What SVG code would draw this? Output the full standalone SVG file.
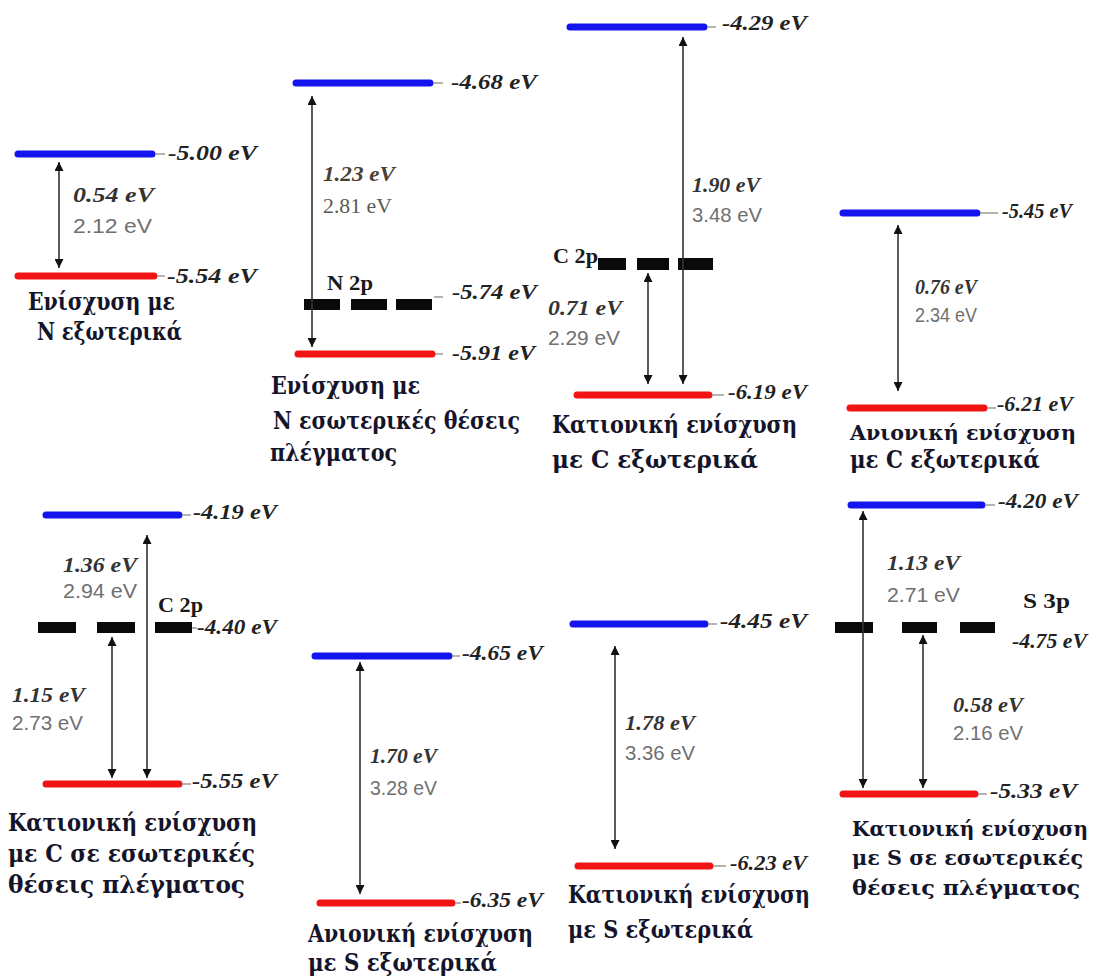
<svg xmlns="http://www.w3.org/2000/svg" width="1098" height="978" viewBox="0 0 1098 978">
  <defs>
    <marker id="head" viewBox="0 0 10 10" refX="10" refY="5" markerWidth="10" markerHeight="9" markerUnits="userSpaceOnUse" orient="auto-start-reverse">
      <path d="M0,0 L10,5 L0,10 z" fill="#111"/>
    </marker>
    <style>
      .cb { stroke: #1414ee; stroke-width: 7; stroke-linecap: round; }
      .vb { stroke: #f01414; stroke-width: 7; stroke-linecap: round; }
      .tick { stroke: #9a9a9a; stroke-width: 1.5; }
      .orb { fill: #0a0a0a; }
      .arr { stroke: #333; stroke-width: 1.6; fill: none; marker-start: url(#head); marker-end: url(#head); }
      .val { font-family: "Liberation Serif", "DejaVu Serif", serif; font-weight: bold; font-style: italic; font-size: 22px; fill: #222; }
      .gap { font-family: "Liberation Serif", "DejaVu Serif", serif; font-weight: bold; font-style: italic; font-size: 21px; fill: #333; }
      .gray { font-family: "Liberation Sans", sans-serif; font-size: 20px; fill: #707070; }
      .grays { font-family: "Liberation Serif", "DejaVu Serif", serif; font-size: 20px; fill: #5a5a50; }
      .orbl { font-family: "Liberation Serif", "DejaVu Serif", serif; font-weight: bold; font-size: 20px; fill: #1a1a1a; }
      .ttl { font-family: "DejaVu Serif", "Liberation Serif", serif; font-weight: bold; font-size: 24px; fill: #14142a; }
      .ttl.edge { font-size: 21px; }
    </style>
  </defs>
  <rect width="1098" height="978" fill="#ffffff"/>

  <!-- Panel 1: N outer doping -->
  <g id="panel-n-outer">
    <line class="cb" x1="18" y1="154" x2="152" y2="154"/>
    <line class="tick" x1="155" y1="154" x2="165" y2="154"/>
    <text class="val" x="168" y="160" textLength="89" lengthAdjust="spacingAndGlyphs">-5.00 eV</text>
    <line class="vb" x1="18" y1="276" x2="154" y2="276"/>
    <line class="tick" x1="157" y1="276" x2="165" y2="276"/>
    <text class="val" x="167" y="283" textLength="90" lengthAdjust="spacingAndGlyphs">-5.54 eV</text>
    <text class="gap" x="73" y="202" textLength="81" lengthAdjust="spacingAndGlyphs">0.54 eV</text>
    <text class="gray" x="73" y="233" textLength="79" lengthAdjust="spacingAndGlyphs">2.12 eV</text>
    <text class="ttl" x="28" y="310" textLength="147" lengthAdjust="spacingAndGlyphs">Ενίσχυση με</text>
    <text class="ttl" x="37" y="340" textLength="145" lengthAdjust="spacingAndGlyphs">N εξωτερικά</text>
  </g>

  <!-- Panel 2: N interstitial doping -->
  <g id="panel-n-inner">
    <line class="cb" x1="296" y1="83" x2="430" y2="83"/>
    <line class="tick" x1="433" y1="83" x2="443" y2="83"/>
    <text class="val" x="451" y="89" textLength="86" lengthAdjust="spacingAndGlyphs">-4.68 eV</text>
    <text class="orbl" x="327" y="290" textLength="46" lengthAdjust="spacingAndGlyphs">N 2p</text>
    <rect class="orb" x="304" y="299" width="36" height="11"/>
    <rect class="orb" x="351" y="299" width="36" height="11"/>
    <rect class="orb" x="396" y="299" width="36" height="11"/>
    <line class="tick" x1="434" y1="297" x2="443" y2="297"/>
    <text class="val" x="452" y="299" textLength="85" lengthAdjust="spacingAndGlyphs">-5.74 eV</text>
    <line class="vb" x1="298" y1="354" x2="432" y2="354"/>
    <line class="tick" x1="435" y1="354" x2="443" y2="354"/>
    <text class="val" x="452" y="360" textLength="83" lengthAdjust="spacingAndGlyphs">-5.91 eV</text>
    <text class="gap" x="323" y="181" textLength="72" lengthAdjust="spacingAndGlyphs" style="fill:#4a4032">1.23 eV</text>
    <text class="grays" x="323" y="213" textLength="69" lengthAdjust="spacingAndGlyphs">2.81 eV</text>
    <text class="ttl" x="271" y="394" textLength="149" lengthAdjust="spacingAndGlyphs">Ενίσχυση με</text>
    <text class="ttl" x="273" y="429" textLength="247" lengthAdjust="spacingAndGlyphs">N εσωτερικές θέσεις</text>
    <text class="ttl" x="270" y="461" textLength="127" lengthAdjust="spacingAndGlyphs">πλέγματος</text>
  </g>

  <!-- Panel 3: cationic C outer doping -->
  <g id="panel-c-cation-outer">
    <line class="cb" x1="570" y1="27" x2="704" y2="27"/>
    <line class="tick" x1="707" y1="27" x2="716" y2="27"/>
    <text class="val" x="722" y="30" textLength="85" lengthAdjust="spacingAndGlyphs">-4.29 eV</text>
    <text class="orbl" x="553" y="263" textLength="45" lengthAdjust="spacingAndGlyphs">C 2p</text>
    <rect class="orb" x="598" y="258" width="28" height="12"/>
    <rect class="orb" x="637" y="258" width="32" height="12"/>
    <rect class="orb" x="678" y="258" width="35" height="12"/>
    <line class="vb" x1="577" y1="395" x2="709" y2="395"/>
    <line class="tick" x1="712" y1="395" x2="724" y2="395"/>
    <text class="val" x="728" y="399" textLength="79" lengthAdjust="spacingAndGlyphs">-6.19 eV</text>
    <text class="gap" x="692" y="192" textLength="68" lengthAdjust="spacingAndGlyphs">1.90 eV</text>
    <text class="gray" x="692" y="222" textLength="70" lengthAdjust="spacingAndGlyphs">3.48 eV</text>
    <text class="gap" x="548" y="315" textLength="74" lengthAdjust="spacingAndGlyphs">0.71 eV</text>
    <text class="gray" x="548" y="345" textLength="72" lengthAdjust="spacingAndGlyphs">2.29 eV</text>
    <text class="ttl" x="552" y="433" textLength="245" lengthAdjust="spacingAndGlyphs">Κατιονική ενίσχυση</text>
    <text class="ttl" x="552" y="468" textLength="206" lengthAdjust="spacingAndGlyphs">με C εξωτερικά</text>
  </g>

  <!-- Panel 4: anionic C outer doping -->
  <g id="panel-c-anion-outer">
    <line class="cb" x1="843" y1="213" x2="977" y2="213"/>
    <line class="tick" x1="980" y1="213" x2="998" y2="213"/>
    <text class="val" x="1002" y="218" textLength="70" lengthAdjust="spacingAndGlyphs">-5.45 eV</text>
    <line class="vb" x1="850" y1="408" x2="984" y2="408"/>
    <line class="tick" x1="987" y1="408" x2="996" y2="408"/>
    <text class="val" x="997" y="411" textLength="76" lengthAdjust="spacingAndGlyphs">-6.21 eV</text>
    <text class="gap" x="915" y="294" textLength="62" lengthAdjust="spacingAndGlyphs">0.76 eV</text>
    <text class="gray" x="915" y="322" textLength="62" lengthAdjust="spacingAndGlyphs">2.34 eV</text>
    <text class="ttl edge" x="850" y="440" textLength="226" lengthAdjust="spacingAndGlyphs">Ανιονική ενίσχυση</text>
    <text class="ttl" x="850" y="468" textLength="190" lengthAdjust="spacingAndGlyphs">με C εξωτερικά</text>
  </g>

  <!-- Panel 5: cationic C interstitial doping -->
  <g id="panel-c-cation-inner">
    <line class="cb" x1="46" y1="515" x2="179" y2="515"/>
    <line class="tick" x1="182" y1="515" x2="191" y2="515"/>
    <text class="val" x="193" y="519" textLength="84" lengthAdjust="spacingAndGlyphs">-4.19 eV</text>
    <text class="orbl" x="158" y="612" textLength="45" lengthAdjust="spacingAndGlyphs">C 2p</text>
    <rect class="orb" x="38" y="622" width="38" height="11"/>
    <rect class="orb" x="97" y="622" width="38" height="11"/>
    <rect class="orb" x="155" y="622" width="37" height="11"/>
    <line class="tick" x1="192" y1="628" x2="197" y2="628"/>
    <text class="val" x="197" y="634" textLength="80" lengthAdjust="spacingAndGlyphs">-4.40 eV</text>
    <line class="vb" x1="46" y1="784" x2="179" y2="784"/>
    <line class="tick" x1="182" y1="784" x2="191" y2="784"/>
    <text class="val" x="192" y="788" textLength="85" lengthAdjust="spacingAndGlyphs">-5.55 eV</text>
    <text class="gap" x="63" y="572" textLength="74" lengthAdjust="spacingAndGlyphs">1.36 eV</text>
    <text class="gray" x="63" y="598" textLength="74" lengthAdjust="spacingAndGlyphs">2.94 eV</text>
    <text class="gap" x="12" y="702" textLength="73" lengthAdjust="spacingAndGlyphs">1.15 eV</text>
    <text class="gray" x="12" y="730" textLength="71" lengthAdjust="spacingAndGlyphs">2.73 eV</text>
    <text class="ttl" x="8" y="831" textLength="249" lengthAdjust="spacingAndGlyphs">Κατιονική ενίσχυση</text>
    <text class="ttl" x="8" y="862" textLength="247" lengthAdjust="spacingAndGlyphs">με C σε εσωτερικές</text>
    <text class="ttl" x="8" y="893" textLength="237" lengthAdjust="spacingAndGlyphs">θέσεις πλέγματος</text>
  </g>

  <!-- Panel 6: anionic S outer doping -->
  <g id="panel-s-anion-outer">
    <line class="cb" x1="315" y1="656" x2="449" y2="656"/>
    <line class="tick" x1="452" y1="656" x2="460" y2="656"/>
    <text class="val" x="462" y="660" textLength="81" lengthAdjust="spacingAndGlyphs">-4.65 eV</text>
    <line class="vb" x1="320" y1="903" x2="452" y2="903"/>
    <line class="tick" x1="455" y1="903" x2="461" y2="903"/>
    <text class="val" x="462" y="907" textLength="81" lengthAdjust="spacingAndGlyphs">-6.35 eV</text>
    <text class="gap" x="370" y="763" textLength="67" lengthAdjust="spacingAndGlyphs">1.70 eV</text>
    <text class="gray" x="370" y="795" textLength="67" lengthAdjust="spacingAndGlyphs">3.28 eV</text>
    <text class="ttl" x="308" y="942" textLength="225" lengthAdjust="spacingAndGlyphs">Ανιονική ενίσχυση</text>
    <text class="ttl" x="308" y="971" textLength="189" lengthAdjust="spacingAndGlyphs">με S εξωτερικά</text>
  </g>

  <!-- Panel 7: cationic S outer doping -->
  <g id="panel-s-cation-outer">
    <line class="cb" x1="573" y1="624" x2="705" y2="624"/>
    <line class="tick" x1="708" y1="624" x2="717" y2="624"/>
    <text class="val" x="720" y="628" textLength="87" lengthAdjust="spacingAndGlyphs">-4.45 eV</text>
    <line class="vb" x1="578" y1="866" x2="710" y2="866"/>
    <line class="tick" x1="713" y1="866" x2="726" y2="866"/>
    <text class="val" x="730" y="870" textLength="77" lengthAdjust="spacingAndGlyphs">-6.23 eV</text>
    <text class="gap" x="625" y="730" textLength="70" lengthAdjust="spacingAndGlyphs">1.78 eV</text>
    <text class="gray" x="625" y="760" textLength="70" lengthAdjust="spacingAndGlyphs">3.36 eV</text>
    <text class="ttl" x="568" y="903" textLength="242" lengthAdjust="spacingAndGlyphs">Κατιονική ενίσχυση</text>
    <text class="ttl" x="568" y="938" textLength="185" lengthAdjust="spacingAndGlyphs">με S εξωτερικά</text>
  </g>

  <!-- Panel 8: cationic S interstitial doping -->
  <g id="panel-s-cation-inner">
    <line class="cb" x1="851" y1="505" x2="982" y2="505"/>
    <line class="tick" x1="985" y1="505" x2="995" y2="505"/>
    <text class="val" x="998" y="508" textLength="80" lengthAdjust="spacingAndGlyphs">-4.20 eV</text>
    <text class="orbl" x="1023" y="608" textLength="47" lengthAdjust="spacingAndGlyphs">S 3p</text>
    <rect class="orb" x="835" y="622" width="38" height="11"/>
    <rect class="orb" x="902" y="622" width="35" height="11"/>
    <rect class="orb" x="960" y="622" width="35" height="11"/>
    <text class="val" x="1012" y="648" textLength="75" lengthAdjust="spacingAndGlyphs">-4.75 eV</text>
    <line class="vb" x1="843" y1="794" x2="975" y2="794"/>
    <line class="tick" x1="978" y1="794" x2="987" y2="794"/>
    <text class="val" x="990" y="798" textLength="87" lengthAdjust="spacingAndGlyphs">-5.33 eV</text>
    <text class="gap" x="887" y="570" textLength="73" lengthAdjust="spacingAndGlyphs">1.13 eV</text>
    <text class="gray" x="887" y="602" textLength="73" lengthAdjust="spacingAndGlyphs">2.71 eV</text>
    <text class="gap" x="953" y="712" textLength="70" lengthAdjust="spacingAndGlyphs">0.58 eV</text>
    <text class="gray" x="953" y="740" textLength="70" lengthAdjust="spacingAndGlyphs">2.16 eV</text>
    <text class="ttl edge" x="852" y="836" textLength="236" lengthAdjust="spacingAndGlyphs">Κατιονική ενίσχυση</text>
    <text class="ttl edge" x="852" y="865" textLength="231" lengthAdjust="spacingAndGlyphs">με S σε εσωτερικές</text>
    <text class="ttl edge" x="852" y="895" textLength="228" lengthAdjust="spacingAndGlyphs">θέσεις πλέγματος</text>
  </g>

  <!-- Transition arrows between levels -->
  <g id="connectors">
    <line class="arr" x1="59" y1="162" x2="59" y2="268"/>
    <line class="arr" x1="312" y1="96" x2="312" y2="347"/>
    <line class="arr" x1="683" y1="37" x2="683" y2="384"/>
    <line class="arr" x1="648" y1="273" x2="648" y2="384"/>
    <line class="arr" x1="898" y1="225" x2="898" y2="391"/>
    <line class="arr" x1="147" y1="535" x2="147" y2="778"/>
    <line class="arr" x1="112" y1="637" x2="112" y2="778"/>
    <line class="arr" x1="360" y1="662" x2="360" y2="894"/>
    <line class="arr" x1="615" y1="646" x2="615" y2="849"/>
    <line class="arr" x1="863" y1="511" x2="863" y2="788"/>
    <line class="arr" x1="923" y1="635" x2="923" y2="788"/>
  </g>
</svg>
